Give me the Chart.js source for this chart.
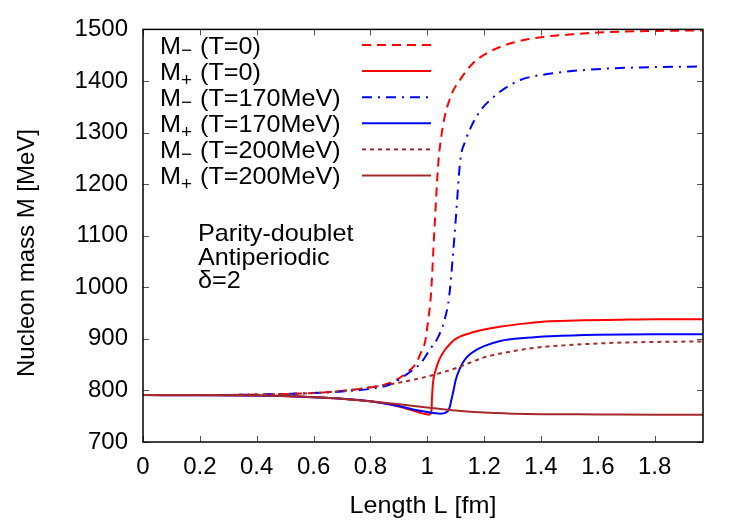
<!DOCTYPE html>
<html>
<head>
<meta charset="utf-8">
<script src="https://cdn.jsdelivr.net/npm/chart.js@4/dist/chart.umd.min.js"></script>
<style>
    html, body { margin: 0; padding: 0; background: #fff; }
    #wrap { width: 750px; height: 525px; }
</style>
</head>
<body>
<div id="wrap"><canvas id="massChart" width="750" height="525"></canvas></div>
<script>
/* data */

const mMinusT0L = [0, 0.2, 0.4, 0.6, 0.7, 0.8, 0.87, 0.93, 0.96, 0.975, 0.993, 1.003, 1.013, 1.025, 1.039, 1.05, 1.063, 1.075, 1.09, 1.11, 1.16, 1.22, 1.3, 1.4, 1.5, 1.6, 1.8, 1.97];
const mMinusT0M = [791, 791, 792, 795, 799, 806, 815, 835, 852, 870, 896, 935, 986, 1110, 1242, 1295, 1335, 1358, 1380, 1398, 1434, 1457, 1474, 1485, 1490, 1494, 1497, 1498];

const mPlusT0L = [0, 0.2, 0.4, 0.6, 0.7, 0.8, 0.9, 0.95, 0.98, 0.995, 1.005, 1.012, 1.015, 1.017, 1.021, 1.03, 1.04, 1.06, 1.08, 1.1, 1.15, 1.2, 1.26, 1.35, 1.43, 1.55, 1.67, 1.8, 1.97];
const mPlusT0M = [791, 790.5, 790, 787, 784, 779, 769, 761, 756, 754, 753, 755, 762, 790, 819, 840, 857, 877, 890, 900, 911, 918, 924, 930, 934, 936, 937, 938, 938];

const mMinusT170L = [0, 0.2, 0.4, 0.6, 0.7, 0.8, 0.87, 0.93, 0.98, 1.01, 1.035, 1.06, 1.077, 1.09, 1.1, 1.116, 1.135, 1.155, 1.186, 1.221, 1.274, 1.327, 1.443, 1.573, 1.725, 1.97];
const mMinusT170M = [791, 791, 792, 795, 798, 803, 812, 832, 855, 880, 900, 935, 982, 1060, 1130, 1245, 1285, 1312, 1342, 1363, 1386, 1402, 1415, 1422, 1426, 1428];

const mPlusT170L = [0, 0.2, 0.4, 0.6, 0.7, 0.8, 0.9, 0.95, 1.0, 1.045, 1.065, 1.075, 1.08, 1.085, 1.092, 1.1, 1.116, 1.13, 1.15, 1.174, 1.2, 1.257, 1.35, 1.433, 1.6, 1.8, 1.97];
const mPlusT170M = [791, 790.5, 790, 787, 784, 779, 770, 763, 758, 755, 757, 762, 770, 782, 799, 820, 844, 858, 870, 879, 886, 896, 902, 905, 908, 909, 909];

const mMinusT200L = [0, 0.2, 0.4, 0.5, 0.6, 0.7, 0.8, 0.9, 1.0, 1.1, 1.2, 1.3, 1.4, 1.5, 1.6, 1.7, 1.8, 1.97];
const mMinusT200M = [791, 791, 792, 793, 795, 799, 806, 815, 827, 843, 864, 876, 884, 888, 891, 893, 894, 895];

const mPlusT200L = [0, 0.2, 0.4, 0.6, 0.7, 0.8, 0.9, 1.0, 1.1, 1.2, 1.3, 1.4, 1.6, 1.8, 1.97];
const mPlusT200M = [791, 791, 790, 787, 784, 779, 773, 767, 761, 757, 755, 754, 753.5, 753, 753];

const seriesSub = ["\u2212", "+", "\u2212", "+", "\u2212", "+"];
const seriesTemp = ["T=0", "T=0", "T=170MeV", "T=170MeV", "T=200MeV", "T=200MeV"];
const noteLines = ["Parity-doublet", "Antiperiodic", "\u03b4=2"];

/* styling */

const fontFamily = "'Liberation Sans', Arial, Helvetica, sans-serif";
const textStretch = 1.05;
const seriesColors = ["#ff0000", "#ff0000", "#0000ff", "#0000ff", "#a52a2a", "#a52a2a"];
const seriesDash = [[9, 6], [], [10, 6, 2, 6], [], [4, 4], []];

const seriesL = [mMinusT0L, mPlusT0L, mMinusT170L, mPlusT170L, mMinusT200L, mPlusT200L];
const seriesM = [mMinusT0M, mPlusT0M, mMinusT170M, mPlusT170M, mMinusT200M, mPlusT200M];

const datasets = seriesL.map((xs, i) => ({
    label: `M${seriesSub[i]} (${seriesTemp[i]})`,
    data: xs.map((x, k) => ({ x: x, y: seriesM[i][k] })),
    borderColor: seriesColors[i],
    borderDash: seriesDash[i],
    borderWidth: 2,
    pointRadius: 0,
    cubicInterpolationMode: "monotone",
    fill: false,
    order: 5 - i
}));

/* draws text slightly wider, like the gnuplot output */
function stretchedText(ctx, text, x, y, size) {
    ctx.save();
    ctx.font = `${size}px ${fontFamily}`;
    ctx.translate(x, y);
    ctx.scale(textStretch, 1);
    ctx.fillText(text, 0, 0);
    const w = ctx.measureText(text).width * textStretch;
    ctx.restore();
    return w;
}

/* frame, inward ticks, legend, labels */

const framePlugin = {
    id: "frame",
    afterDatasetsDraw(chart) {
        const ctx = chart.ctx;
        const area = chart.chartArea;
        const xScale = chart.scales.x;
        const yScale = chart.scales.y;

        ctx.save();
        ctx.strokeStyle = "#555";
        ctx.lineWidth = 1;
        ctx.setLineDash([]);
        xScale.ticks.forEach(t => {
            const px = Math.round(xScale.getPixelForValue(t.value)) + 0.5;
            ctx.beginPath();
            ctx.moveTo(px, area.bottom); ctx.lineTo(px, area.bottom - 6);
            ctx.moveTo(px, area.top); ctx.lineTo(px, area.top + 6);
            ctx.stroke();
        });
        yScale.ticks.forEach(t => {
            const py = Math.round(yScale.getPixelForValue(t.value)) + 0.5;
            ctx.beginPath();
            ctx.moveTo(area.left, py); ctx.lineTo(area.left + 6, py);
            ctx.moveTo(area.right, py); ctx.lineTo(area.right - 6, py);
            ctx.stroke();
        });

        ctx.strokeStyle = "#000";
        ctx.lineWidth = 1.5;
        ctx.strokeRect(area.left, area.top, area.right - area.left, area.bottom - area.top);

        /* legend: text left, sample right */
        ctx.fillStyle = "#000";
        ctx.textBaseline = "alphabetic";
        ctx.textAlign = "left";
        chart.data.datasets.forEach((ds, i) => {
            const rowY = 45 + i * 26.1;
            const base = rowY + 8.5;
            stretchedText(ctx, "M", 160, base, 24);
            stretchedText(ctx, seriesSub[i], 181, base + (seriesSub[i] === "+" ? 6 : 2), 18);
            stretchedText(ctx, `(${seriesTemp[i]})`, 200, base, 24);

            ctx.strokeStyle = ds.borderColor;
            ctx.lineWidth = 2;
            ctx.setLineDash(ds.borderDash);
            ctx.beginPath();
            ctx.moveTo(362, rowY);
            ctx.lineTo(431, rowY);
            ctx.stroke();
        });
        ctx.setLineDash([]);

        /* note inside the plot */
        noteLines.forEach((line, i) => {
            stretchedText(ctx, line, 198, 241 + i * 23.5, 24);
        });

        /* axis titles */
        ctx.textAlign = "center";
        ctx.textBaseline = "middle";
        stretchedText(ctx, "Length L [fm]", (area.left + area.right) / 2, 506, 24);
        ctx.font = `24px ${fontFamily}`;
        ctx.translate(27, 253);
        ctx.rotate(-Math.PI / 2);
        ctx.fillText("Nucleon mass M [MeV]", 0, 0);
        ctx.restore();
    }
};

const massChart = new Chart(document.querySelector("#massChart"), {
    type: "line",
    data: { datasets: datasets },
    options: {
        responsive: false,
        animation: false,
        layout: { padding: { top: 26, right: 47, left: 0, bottom: 0 } },
        plugins: {
            legend: { display: false },
            tooltip: { enabled: false }
        },
        scales: {
            x: {
                type: "linear",
                min: 0,
                max: 1.97,
                grid: { display: false, drawTicks: false },
                border: { display: false },
                ticks: {
                    stepSize: 0.2,
                    includeBounds: false,
                    maxRotation: 0,
                    padding: 11,
                    color: "#000",
                    font: { family: fontFamily, size: 24 },
                    callback: value => String(Math.round(value * 10) / 10)
                },
                afterFit(scale) { scale.height = 83; }
            },
            y: {
                min: 700,
                max: 1500,
                grid: { display: false, drawTicks: false },
                border: { display: false },
                ticks: {
                    stepSize: 100,
                    padding: 15,
                    color: "#000",
                    font: { family: fontFamily, size: 24 },
                    callback: value => String(value)
                },
                afterFit(scale) { scale.width = 143; }
            }
        }
    },
    plugins: [framePlugin]
});
</script>
</body>
</html>
